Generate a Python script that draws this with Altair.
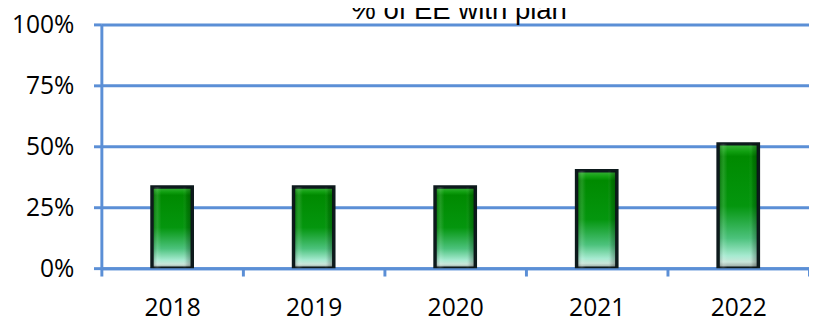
import altair as alt
import pandas as pd

title_text = "% of EE with plan"
years = ["2018", "2019", "2020", "2021", "2022"]
share = [0.333, 0.333, 0.333, 0.40, 0.51]
y_ticks = [0, 0.25, 0.5, 0.75, 1.0]

df = pd.DataFrame({"year": years, "share": share})

BLUE = "#5B8FD6"

x_enc = alt.X(
    "year:N",
    sort=years,
    scale=alt.Scale(paddingInner=0, paddingOuter=0),
    axis=alt.Axis(
        title=None, labelAngle=0, tickBand="extent", domainColor=BLUE,
        domainWidth=3, tickColor=BLUE, tickWidth=3, tickSize=8,
        labelPadding=20, labelFont="Open Sans", labelFontSize=25,
        labelColor="#000000", grid=False,
    ),
)
y_enc = alt.Y(
    "share:Q",
    scale=alt.Scale(domain=[0, 1], nice=False),
    axis=alt.Axis(
        title=None, values=y_ticks, format=".0%", domainColor=BLUE,
        domainWidth=3, tickColor=BLUE, tickWidth=3, tickSize=8,
        labelPadding=20, labelFont="Open Sans", labelFontSize=25,
        labelColor="#000000", grid=True, gridColor=BLUE, gridWidth=3,
    ),
)

fill_grad = alt.Gradient(
    gradient="linear", x1=0, x2=0, y1=0, y2=1,
    stops=[
        alt.GradientStop(offset=0.0, color="#3fb23f"),
        alt.GradientStop(offset=0.06, color="#11a011"),
        alt.GradientStop(offset=0.1, color="#008a00"),
        alt.GradientStop(offset=0.5, color="#04960e"),
        alt.GradientStop(offset=0.76, color="#4cc27c"),
        alt.GradientStop(offset=0.9, color="#a6ead0"),
        alt.GradientStop(offset=0.95, color="#c9e6da"),
        alt.GradientStop(offset=1.0, color="#8f9a94"),
    ],
)
side_grad = alt.Gradient(
    gradient="linear", x1=0, x2=1, y1=0, y2=0,
    stops=[
        alt.GradientStop(offset=0.0, color="rgba(0,0,0,0.25)"),
        alt.GradientStop(offset=0.12, color="rgba(255,255,255,0.12)"),
        alt.GradientStop(offset=0.22, color="rgba(255,255,255,0)"),
        alt.GradientStop(offset=0.78, color="rgba(255,255,255,0)"),
        alt.GradientStop(offset=0.88, color="rgba(0,0,0,0.12)"),
        alt.GradientStop(offset=1.0, color="rgba(0,0,0,0.3)"),
    ],
)

base = alt.Chart(df)
bars = base.mark_bar(
    width=41, color=fill_grad, stroke="#0d1a1c", strokeWidth=3.5, clip=True
).encode(x=x_enc, y=y_enc)
shade = base.mark_bar(width=39, color=side_grad, clip=True).encode(
    x=alt.X("year:N", sort=years), y="share:Q"
)

title = alt.Chart(pd.DataFrame({"t": [title_text]})).mark_text(
    font="Liberation Sans", fontSize=28, color="#000000", align="center",
    baseline="alphabetic",
).encode(text="t:N", x=alt.value(364), y=alt.value(-6))

chart = (
    alt.layer(bars, shade, title)
    .properties(
        width=720, height=248,
        autosize=alt.AutoSizeParams(type="none"),
        padding={"left": 95, "top": 14, "right": 0, "bottom": 48},
    )
    .configure_view(stroke=None)
)

chart.save("out.html", embed_options={"renderer": "svg", "actions": False})
